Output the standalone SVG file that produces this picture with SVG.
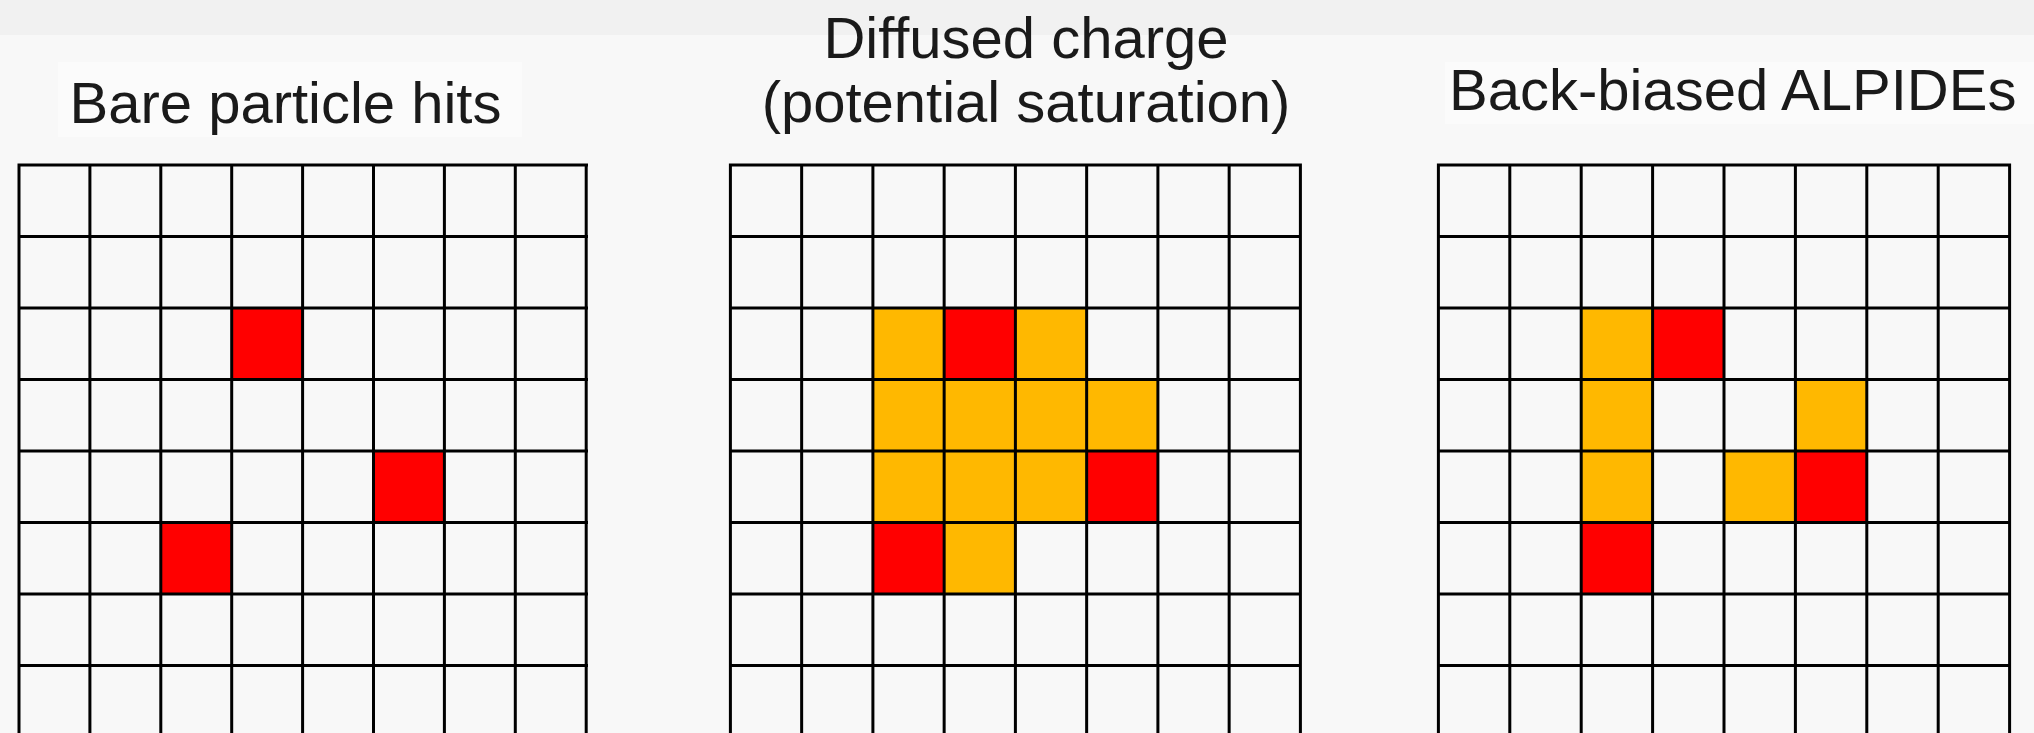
<svg xmlns="http://www.w3.org/2000/svg" width="2034" height="733" viewBox="0 0 2034 733">
<style>
.title{font-family:"Liberation Sans",Arial,sans-serif;font-size:58px;fill:#1a1a1a;}
.grid{fill:none;stroke:#000;stroke-width:3;}
.red{fill:#FF0000;}
.org{fill:#FFB800;}
.tbox{fill:#FBFBFB;}
</style>
<rect x="0" y="0" width="2034" height="733" fill="#F8F8F8"/>
<rect x="0" y="0" width="2034" height="35" fill="#F1F1F1"/>

<g id="title-bare">
<rect class="tbox" x="58" y="62" width="464" height="75"/>
<text class="title" x="285.5" y="123" text-anchor="middle">Bare particle hits</text>
</g>
<g id="title-diffused">
<text class="title" x="1026" y="58" text-anchor="middle">Diffused charge</text>
<text class="title" x="1026" y="122" text-anchor="middle">(potential saturation)</text>
</g>
<g id="title-backbiased">
<rect class="tbox" x="1445" y="62" width="589" height="62"/>
<text class="title" x="1449" y="110">Back-biased ALPIDEs</text>
</g>

<g id="grid-bare" transform="translate(19,165)">
<rect class="red" x="212.7" y="143" width="70.9" height="71.5"/>
<rect class="red" x="354.5" y="286" width="70.9" height="71.5"/>
<rect class="red" x="141.8" y="357.5" width="70.9" height="71.5"/>
<path class="grid" d="M0,0V572M70.9,0V572M141.8,0V572M212.7,0V572M283.6,0V572M354.5,0V572M425.4,0V572M496.3,0V572M567.2,0V572M-1.5,0H569M-1.5,71.5H569M-1.5,143H569M-1.5,214.5H569M-1.5,286H569M-1.5,357.5H569M-1.5,429H569M-1.5,500.5H569"/>
</g>

<g id="grid-diffused" transform="translate(730.4,165)">
<rect class="org" x="142.5" y="143" width="71.25" height="71.5"/>
<rect class="red" x="213.75" y="143" width="71.25" height="71.5"/>
<rect class="org" x="285" y="143" width="71.25" height="71.5"/>
<rect class="org" x="142.5" y="214.5" width="71.25" height="71.5"/>
<rect class="org" x="213.75" y="214.5" width="71.25" height="71.5"/>
<rect class="org" x="285" y="214.5" width="71.25" height="71.5"/>
<rect class="org" x="356.25" y="214.5" width="71.25" height="71.5"/>
<rect class="org" x="142.5" y="286" width="71.25" height="71.5"/>
<rect class="org" x="213.75" y="286" width="71.25" height="71.5"/>
<rect class="org" x="285" y="286" width="71.25" height="71.5"/>
<rect class="red" x="356.25" y="286" width="71.25" height="71.5"/>
<rect class="red" x="142.5" y="357.5" width="71.25" height="71.5"/>
<rect class="org" x="213.75" y="357.5" width="71.25" height="71.5"/>
<path class="grid" d="M0,0V572M71.25,0V572M142.5,0V572M213.75,0V572M285,0V572M356.25,0V572M427.5,0V572M498.75,0V572M570,0V572M-1.5,0H571.5M-1.5,71.5H571.5M-1.5,143H571.5M-1.5,214.5H571.5M-1.5,286H571.5M-1.5,357.5H571.5M-1.5,429H571.5M-1.5,500.5H571.5"/>
</g>

<g id="grid-backbiased" transform="translate(1438.4,165)">
<rect class="org" x="142.8" y="143" width="71.4" height="71.5"/>
<rect class="red" x="214.2" y="143" width="71.4" height="71.5"/>
<rect class="org" x="142.8" y="214.5" width="71.4" height="71.5"/>
<rect class="org" x="357" y="214.5" width="71.4" height="71.5"/>
<rect class="org" x="142.8" y="286" width="71.4" height="71.5"/>
<rect class="org" x="285.6" y="286" width="71.4" height="71.5"/>
<rect class="red" x="357" y="286" width="71.4" height="71.5"/>
<rect class="red" x="142.8" y="357.5" width="71.4" height="71.5"/>
<path class="grid" d="M0,0V572M71.4,0V572M142.8,0V572M214.2,0V572M285.6,0V572M357,0V572M428.4,0V572M499.8,0V572M571.2,0V572M-1.5,0H572.7M-1.5,71.5H572.7M-1.5,143H572.7M-1.5,214.5H572.7M-1.5,286H572.7M-1.5,357.5H572.7M-1.5,429H572.7M-1.5,500.5H572.7"/>
</g>
<g id="connectors"/>
</svg>
